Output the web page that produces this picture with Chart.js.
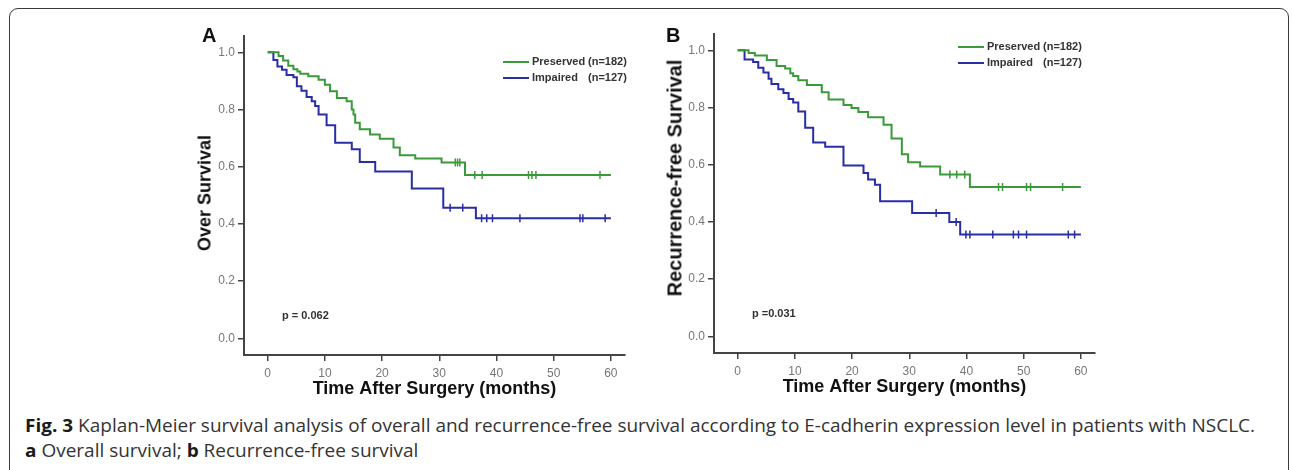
<!DOCTYPE html>
<html>
<head>
<meta charset="utf-8">
<script src="https://cdn.jsdelivr.net/npm/chart.js@4.4.1/dist/chart.umd.min.js"></script>
<style>
  body { margin: 0; background: #fff; width: 1292px; height: 470px; overflow: hidden; position: relative; font-family: Arial, "Liberation Sans", sans-serif; }
  .frame { position: absolute; left: 9px; top: 8px; width: 1280px; height: 480px; border: 1.5px solid #3a3a3a; border-radius: 9px; box-sizing: border-box; }
  canvas { position: absolute; }
  .tag { position: absolute; font: bold 20px Arial, "Liberation Sans", sans-serif; color: #111; line-height: 20px; }
  .ytitle { position: absolute; font-weight: bold; color: #111; white-space: nowrap; transform: translate(-50%, -50%) rotate(-90deg); }
  .caption { position: absolute; left: 25px; top: 412px; font-family: "Open Sans", sans-serif; font-size: 18.5px; line-height: 25px; color: #333; white-space: nowrap; }
  .caption div { display: inline-block; transform-origin: 0 50%; }
  .caption b { color: #1a1a1a; }
</style>
</head>
<body>
<div class="frame"></div>
<canvas id="chartA" width="450" height="380" style="left:190px;top:20px"></canvas>
<canvas id="chartB" width="450" height="380" style="left:660px;top:18px"></canvas>
<div class="tag" style="left:202px;top:25px">A</div>
<div class="tag" style="left:666px;top:25px">B</div>
<div class="ytitle" style="left:205px;top:193px;font-size:18px">Over Survival</div>
<div class="ytitle" style="left:675px;top:178px;font-size:20px">Recurrence-free Survival</div>
<div class="caption">
  <div id="cap1"><b>Fig. 3</b> Kaplan-Meier survival analysis of overall and recurrence-free survival according to E-cadherin expression level in patients with NSCLC.</div><br>
  <div id="cap2"><b>a</b> Overall survival; <b>b</b> Recurrence-free survival</div>
</div>
<script>
// groups
const groupNames = ["Preserved", "Impaired"];
const groupCounts = [182, 127];
const GREEN = "#3a9a3a";
const BLUE = "#2a2ea6";

// axis ticks
const xTicks = [0, 10, 20, 30, 40, 50, 60];
const yTicks = [0, 0.2, 0.4, 0.6, 0.8, 1.0];

// A: overall survival, preserved
const osPresTime = [0, 1.9, 2.7, 3.6, 4.5, 5.2, 5.7, 7.1, 8.9, 10.0, 10.9, 12.1, 13.8, 14.7, 15.0, 15.3, 16.1, 17.9, 19.6, 22.0, 23.1, 25.8, 30.4, 34.5, 60];
const osPresSurv = [1.0, 0.987, 0.971, 0.953, 0.941, 0.933, 0.925, 0.916, 0.904, 0.887, 0.864, 0.840, 0.829, 0.800, 0.783, 0.754, 0.731, 0.713, 0.698, 0.667, 0.640, 0.629, 0.615, 0.571, 0.571];
const osPresCens = [32.8, 33.2, 33.6, 36.2, 37.5, 45.6, 46.2, 46.9, 58.1];

// A: overall survival, impaired
const osImpTime = [0, 1.0, 1.7, 2.5, 3.3, 4.5, 5.1, 5.9, 6.8, 7.7, 8.3, 8.9, 10.3, 11.8, 14.7, 16.1, 18.8, 25.2, 30.7, 36.4, 60];
const osImpSurv = [1.0, 0.973, 0.950, 0.939, 0.921, 0.913, 0.881, 0.866, 0.844, 0.829, 0.812, 0.783, 0.745, 0.684, 0.661, 0.617, 0.583, 0.524, 0.457, 0.420, 0.420];
const osImpCens = [31.9, 34.1, 37.4, 38.3, 39.3, 44.1, 54.6, 55.1, 59.0];

// B: recurrence-free survival, preserved
const rfsPresTime = [0, 1.9, 3.0, 5.1, 6.8, 8.3, 9.2, 9.7, 10.6, 12.1, 14.7, 15.9, 18.5, 19.9, 21.1, 22.8, 25.5, 26.9, 28.7, 29.8, 31.9, 35.4, 40.6, 60];
const rfsPresSurv = [1.0, 0.991, 0.982, 0.966, 0.945, 0.936, 0.920, 0.910, 0.895, 0.879, 0.853, 0.828, 0.809, 0.798, 0.784, 0.766, 0.740, 0.692, 0.637, 0.609, 0.594, 0.566, 0.522, 0.522];
const rfsPresCens = [37.1, 38.3, 39.7, 45.6, 46.3, 50.5, 51.2, 56.8];

// B: recurrence-free survival, impaired
const rfsImpTime = [0, 1.2, 2.7, 3.6, 4.5, 5.4, 5.9, 7.1, 8.0, 8.9, 9.7, 10.6, 11.8, 13.2, 15.3, 18.5, 22.0, 22.8, 24.0, 24.9, 30.5, 37.0, 38.9, 60];
const rfsImpSurv = [1.0, 0.968, 0.959, 0.939, 0.922, 0.901, 0.882, 0.864, 0.851, 0.830, 0.818, 0.786, 0.729, 0.678, 0.663, 0.597, 0.571, 0.548, 0.530, 0.472, 0.431, 0.400, 0.356, 0.356];
const rfsImpCens = [34.7, 38.2, 39.9, 40.6, 44.6, 48.2, 49.1, 50.5, 57.8, 58.9];

function stepValue(times, surv, t) {
  let v = surv[0];
  for (let i = 0; i < times.length; i++) {
    if (times[i] <= t) v = surv[i];
  }
  return v;
}

function curve(label, color, times, surv) {
  return {
    label,
    data: times.map((t, i) => ({ x: t, y: surv[i] })),
    borderColor: color,
    borderWidth: 2,
    stepped: true,
    pointRadius: 0,
    fill: false,
  };
}

function censors(color, times, surv, cens) {
  return {
    type: "scatter",
    data: cens.map((t) => ({ x: t, y: stepValue(times, surv, t) })),
    borderColor: color,
    backgroundColor: color,
    borderWidth: 1.5,
    pointStyle: "line",
    rotation: 90,
    pointRadius: 4,
    pointHoverRadius: 4,
    showLine: false,
  };
}

const kmNotes = {
  id: "kmNotes",
  afterDatasetsDraw(chart, args, opts) {
    const ctx = chart.ctx;
    ctx.save();
    ctx.font = "bold 11px Arial, 'Liberation Sans', sans-serif";
    ctx.textBaseline = "middle";
    ctx.fillStyle = "#333";
    groupNames.forEach((name, i) => {
      const y = opts.legendY + i * opts.rowGap;
      ctx.strokeStyle = chart.data.datasets[i].borderColor;
      ctx.lineWidth = 2;
      ctx.beginPath();
      ctx.moveTo(opts.legendX, y);
      ctx.lineTo(opts.legendX + 26, y);
      ctx.stroke();
      ctx.fillText(name, opts.legendX + 29, y);
      ctx.fillText(`(n=${groupCounts[i]})`, opts.legendX + 29 + opts.countOffset, y);
    });
    const px = chart.scales.x.getPixelForValue(opts.pAt[0]);
    const py = chart.scales.y.getPixelForValue(opts.pAt[1]);
    ctx.fillText(opts.pText, px, py);
    ctx.restore();
  },
};

function makeChart(id, green, blue, notes) {
  const tickFont = { family: "Arial, 'Liberation Sans', sans-serif", size: 12 };
  new Chart(document.getElementById(id), {
    type: "line",
    data: {
      datasets: [
        curve(groupNames[0], GREEN, green[0], green[1]),
        curve(groupNames[1], BLUE, blue[0], blue[1]),
        censors(GREEN, green[0], green[1], green[2]),
        censors(BLUE, blue[0], blue[1], blue[2]),
      ],
    },
    options: {
      responsive: false,
      animation: false,
      events: [],
      layout: { padding: { left: 0, top: 16, right: 15, bottom: 0 } },
      plugins: { legend: { display: false }, tooltip: { enabled: false }, kmNotes: notes },
      scales: {
        x: {
          type: "linear",
          min: -4.14,
          max: 62.47,
          afterBuildTicks: (s) => { s.ticks = xTicks.map((v) => ({ value: v })); },
          afterFit: (s) => { s.height = 45; },
          grid: { display: true, drawOnChartArea: false, drawTicks: true, tickLength: 6, color: "#444", lineWidth: 1.5 },
          border: { display: true, color: "#444", width: 2 },
          ticks: { font: tickFont, color: "#777", padding: 5, maxRotation: 0 },
          title: { display: true, text: "Time After Surgery (months)", color: "#111", font: { family: "Arial, 'Liberation Sans', sans-serif", size: 18, weight: "bold" }, padding: { top: 0, bottom: 0 } },
        },
        y: {
          min: -0.058,
          max: 1.057,
          afterBuildTicks: (s) => { s.ticks = yTicks.map((v) => ({ value: v })); },
          afterFit: (s) => { s.width = 54; },
          grid: { display: true, drawOnChartArea: false, drawTicks: true, tickLength: 6, color: "#444", lineWidth: 1.5 },
          border: { display: true, color: "#444", width: 2 },
          ticks: { font: tickFont, color: "#777", padding: 3, callback: (v) => Number(v).toFixed(1) },
        },
      },
    },
    plugins: [kmNotes],
  });
}

makeChart("chartA",
  [osPresTime, osPresSurv, osPresCens],
  [osImpTime, osImpSurv, osImpCens],
  { legendX: 313, legendY: 42, rowGap: 16, countOffset: 56, pText: "p = 0.062", pAt: [2.5, 0.078] });

makeChart("chartB",
  [rfsPresTime, rfsPresSurv, rfsPresCens],
  [rfsImpTime, rfsImpSurv, rfsImpCens],
  { legendX: 298, legendY: 29, rowGap: 16, countOffset: 56, pText: "p =0.031", pAt: [2.5, 0.08] });

// fit caption lines to the figure width
const cap1 = document.getElementById("cap1");
const cap2 = document.getElementById("cap2");
const k = 1230 / cap1.getBoundingClientRect().width;
cap1.style.transform = `scaleX(${k})`;
cap2.style.transform = `scaleX(${k})`;
</script>
</body>
</html>
